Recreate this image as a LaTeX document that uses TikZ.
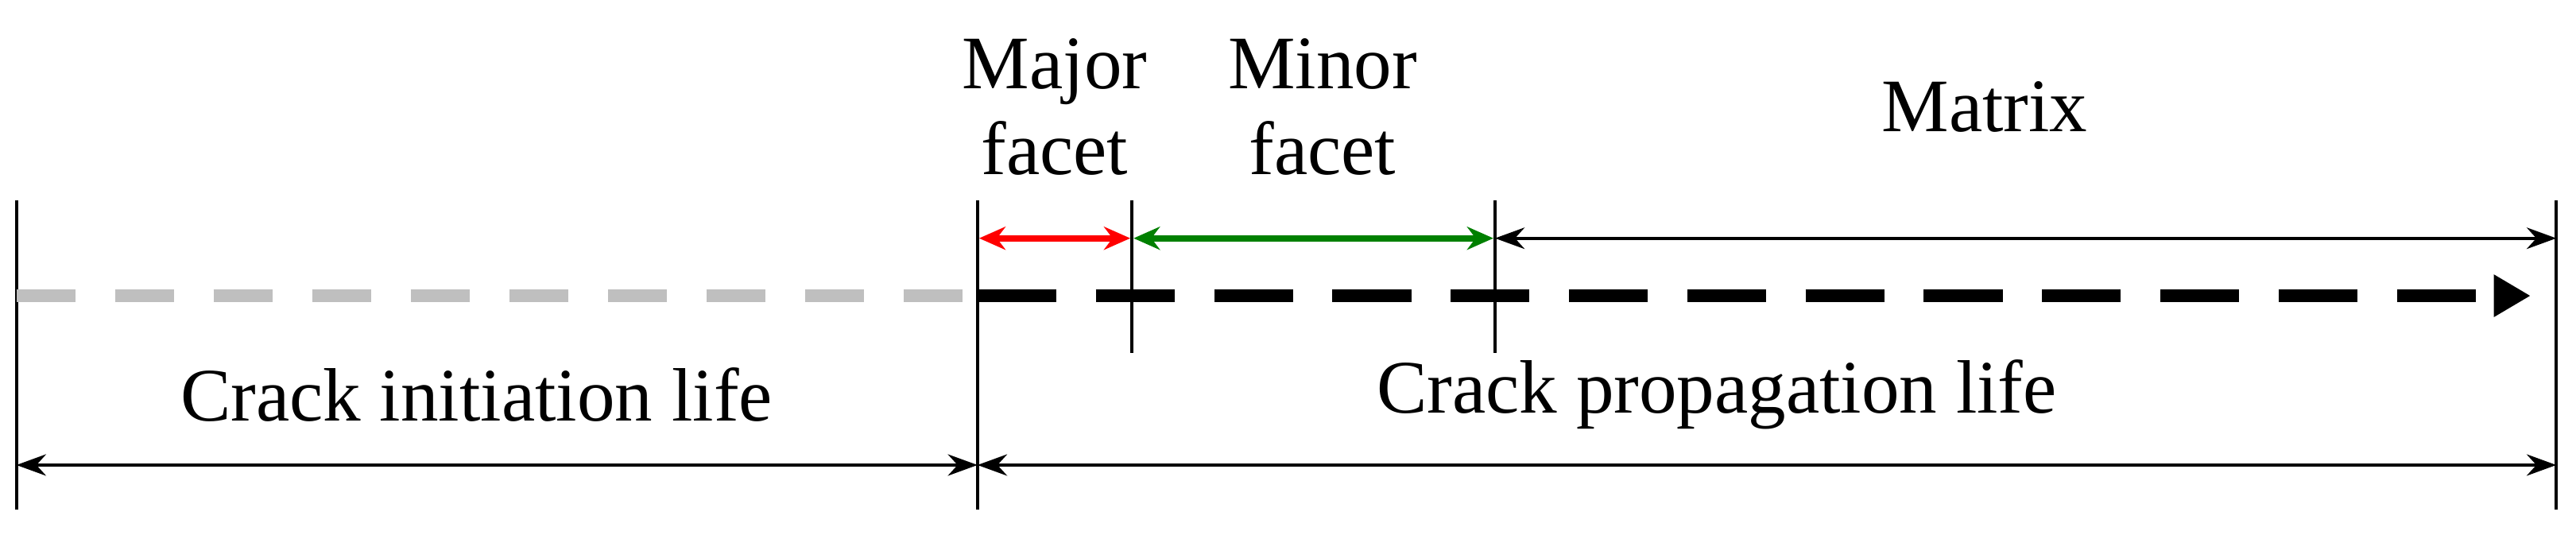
\documentclass[tikz,border=0pt]{standalone}
\usepackage{fontspec}
\setmainfont{Liberation Serif}
\usetikzlibrary{arrows.meta}
\begin{document}
\begin{tikzpicture}[x=1pt,y=-1pt,
  vline/.style={line width=2pt},
  dim/.style={line width=2pt,{Stealth[length=18pt,width=13pt]}-{Stealth[length=18pt,width=13pt]}},
  cdim/.style={line width=4pt,{Stealth[length=16pt,width=14pt]}-{Stealth[length=16pt,width=14pt]}},
  lbl/.style={font=\fontsize{46}{52}\selectfont,align=center,inner sep=0pt}]
\useasboundingbox (0,0) rectangle (1568,328);
\coordinate (a1) at (10,122); \coordinate (a2) at (10,310);
\coordinate (b1) at (595,122); \coordinate (b2) at (595,310);
\coordinate (c1) at (689,122); \coordinate (c2) at (689,215);
\coordinate (d1) at (910,122); \coordinate (d2) at (910,215);
\coordinate (e1) at (1556,122); \coordinate (e2) at (1556,310);
\foreach \p in {a,b,c,d,e} \draw[vline] (\p1) -- (\p2);
\coordinate (g0) at (10,180); \coordinate (g1) at (595,180); \coordinate (g2) at (1520,180);
\draw[gray!50,line width=8pt,dash pattern=on 36pt off 24pt] (g0) -- (g1);
\draw[black,line width=8pt,dash pattern=on 48pt off 24pt] (g1) -- (g2);
\fill (1518,167) -- (1540,180) -- (1518,193) -- cycle;
\draw[cdim,red] (596,145) -- (688,145);
\draw[cdim,green!50!black] (690,145) -- (909,145);
\draw[dim] (910,145) -- (1556,145);
\draw[dim] (10,283) -- (595,283);
\draw[dim] (595,283) -- (1556,283);
\node[lbl] (t1) at (642,65) {Major\\facet};
\node[lbl] (t2) at (805,65) {Minor\\facet};
\node[lbl] (t3) at (1208,65) {Matrix};
\node[lbl] (t4) at (290,240) {Crack initiation life};
\node[lbl] (t5) at (1045,240) {Crack propagation life};
\end{tikzpicture}
\end{document}
